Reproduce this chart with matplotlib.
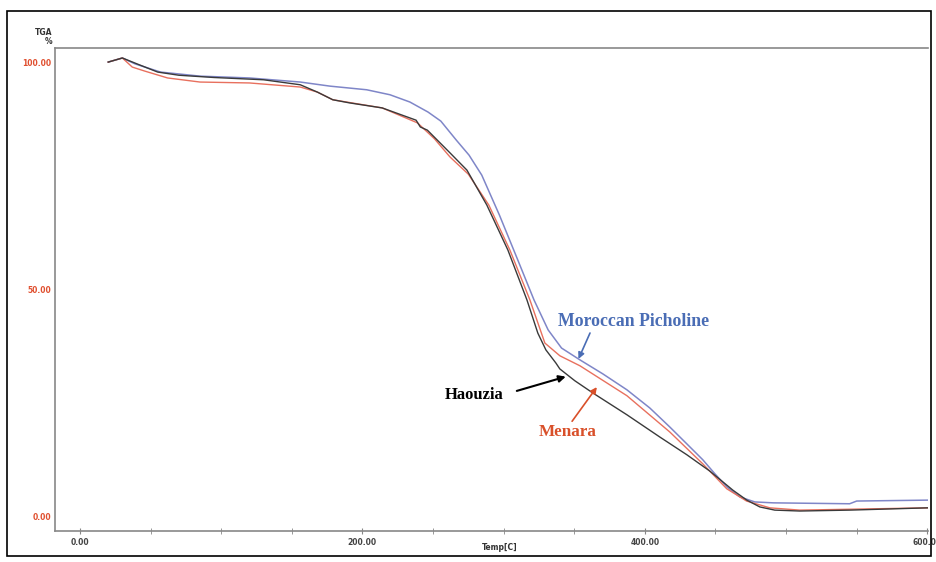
import matplotlib.pyplot as plt
from matplotlib.patches import Rectangle

# TGA curves (temperature in C, mass in %)
pich_t = [20, 30, 39, 57, 85, 120, 156, 177, 203, 219.5, 233.6, 246.4, 255.5, 266.5, 275.5, 284.5, 297, 309.5, 321.5, 331.5,
          341, 354, 370.3, 387.3, 403.5, 417.7, 429.7, 441, 449.6, 458.1, 467.3, 477.9, 491, 545, 550, 600]
pich_m = [100.2, 101.1, 99.8, 98.0, 97.1, 96.7, 95.8, 94.9, 94.1, 93.0, 91.4, 89.2, 87.2, 83.0, 79.7, 75.3, 66.5, 57.0, 47.8, 41.2,
          37.2, 34.6, 31.5, 28.0, 24.0, 19.8, 16.1, 12.6, 9.5, 6.6, 4.4, 3.3, 3.1, 2.9, 3.5, 3.7]

haou_t = [20, 30, 42, 55, 70, 95, 130, 156, 168, 179, 191, 214, 238, 241, 246, 262, 274, 288.1, 303, 316.5, 324.2, 329.9, 337,
          339.8, 350.4, 363.2, 387.3, 410.6, 429.7, 446, 462.3, 472.2, 481.4, 492, 509.7, 545, 600]
haou_m = [100.2, 101.1, 99.6, 98.0, 97.3, 96.8, 96.3, 95.2, 93.6, 91.9, 91.2, 90.1, 87.4, 85.9, 85.2, 80.2, 76.4, 68.7, 58.8, 47.8,
          40.5, 36.8, 33.9, 32.6, 30.0, 27.3, 22.5, 17.6, 13.7, 10.1, 5.9, 3.7, 2.2, 1.5, 1.3, 1.5, 2.0]

men_t = [20, 30, 37, 46, 62, 85, 120, 156, 168, 179, 214, 239, 251, 262, 275, 289.5, 304.4, 318.6, 329.2, 339.8, 354, 387.3,
         417.7, 441, 458, 472, 488.5, 509.7, 600]
men_m = [100.2, 101.1, 99.1, 98.2, 96.7, 95.8, 95.6, 94.7, 93.6, 91.9, 90.1, 86.8, 83.3, 79.3, 75.5, 68.7, 58.8, 47.8, 38.3, 35.5,
         33.3, 26.7, 18.7, 11.7, 6.2, 3.5, 2.0, 1.5, 2.0]

xticks = [0, 200, 400, 600]
xlabels = ["0.00", "200.00", "400.00", "600.00"]
yticks = [0, 50, 100]
ylabels = ["0.00", "50.00", "100.00"]

fig = plt.figure(figsize=(9.37, 5.62), dpi=100)
ax = fig.add_axes([55/937, 31/562, 873/937, 483/562])

ax.plot(pich_t, pich_m, color='#7f86c8', lw=1.1)
ax.plot(men_t, men_m, color='#e8705e', lw=1.0)
ax.plot(haou_t, haou_m, color='#3a3a3a', lw=1.0)

ax.set_xlim(-17.7, 600.5)
ax.set_ylim(-3.1, 103.3)

ax.set_xticks(xticks)
ax.set_xticklabels(xlabels, fontsize=5.5, fontweight='bold', color='#444444')
ax.set_xticks(range(0, 601, 50), minor=True)
ax.set_yticks(yticks)
ax.set_yticklabels(ylabels, fontsize=5.5, fontweight='bold', color='#e05030')
ax.tick_params(axis='x', which='both', direction='inout', length=4, color='#888888', pad=3)
ax.tick_params(axis='y', length=0, pad=3)

for s in ['left', 'bottom', 'top']:
    ax.spines[s].set_color('#888888')
    ax.spines[s].set_linewidth(1.2)
ax.spines['right'].set_visible(False)

fig.text(52/937, 1 - 37/562, "TGA\n%", ha='right', va='center', fontsize=5.5,
         fontweight='bold', color='#333333', linespacing=1.1)
fig.text(500/937, 1 - 548/562, "Temp[C]", ha='center', va='center', fontsize=5.5,
         fontweight='bold', color='#333333')

# labels with arrows
serif = 'Liberation Serif'
ax.annotate("Moroccan Picholine", xy=(353, 34.8), xytext=(392, 43.0),
            ha='center', va='center', fontsize=12.8, fontweight='bold', family=serif,
            color='#4a6db5',
            arrowprops=dict(arrowstyle='-|>', color='#4a6db5', lw=1.2, mutation_scale=9,
                            shrinkA=0, shrinkB=0, relpos=(0.22, 0.0)))
ax.annotate("Haouzia", xy=(344, 30.9), xytext=(279, 26.9),
            ha='center', va='center', fontsize=12, fontweight='bold', family=serif,
            color='black',
            arrowprops=dict(arrowstyle='-|>', color='black', lw=1.5, mutation_scale=10,
                            shrinkA=8, shrinkB=0, relpos=(1.0, 0.5)))
ax.annotate("Menara", xy=(366, 28.6), xytext=(345, 18.7),
            ha='center', va='center', fontsize=12.3, fontweight='bold', family=serif,
            color='#d9502a',
            arrowprops=dict(arrowstyle='-|>', color='#d9502a', lw=1.2, mutation_scale=9,
                            shrinkA=0, shrinkB=0, relpos=(0.55, 1.0)))

# outer frame
fig.patches.append(Rectangle((7/937, 6/562), 924/937, 545/562, transform=fig.transFigure,
                             fill=False, edgecolor='black', lw=1.2))

plt.savefig('out.png', dpi=100)
